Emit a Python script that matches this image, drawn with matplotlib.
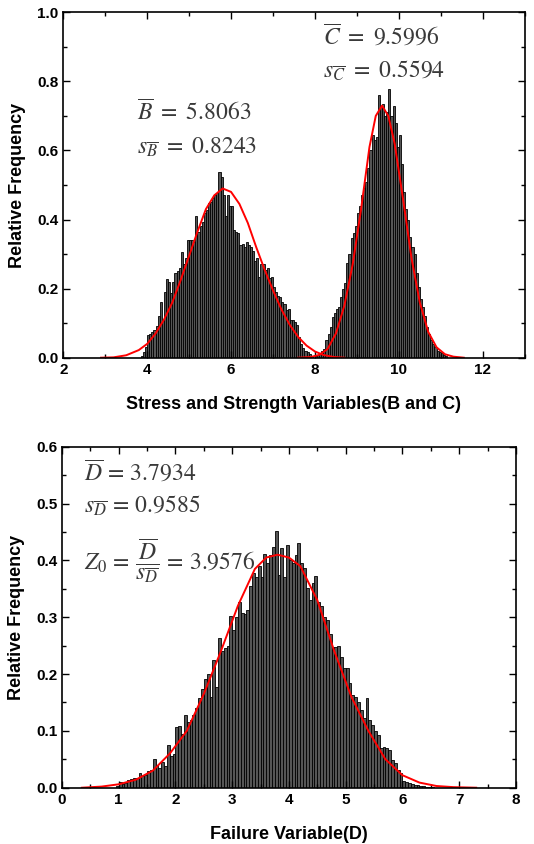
# histograms of stress/strength (B, C) and failure variable (D) with fitted curves
import numpy as np
import matplotlib.pyplot as plt
from matplotlib.ticker import MultipleLocator

plt.rcParams["font.family"] = "Liberation Sans"
plt.rcParams["mathtext.fontset"] = "stix"

BIN = 0.05

# stress B, bins starting at 3.85
b_start = 3.85
b_freq = [0.005, 0.017, 0.03, 0.066, 0.07, 0.075, 0.08, 0.093, 0.12, 0.16,
          0.109, 0.19, 0.228, 0.22, 0.186, 0.22, 0.244, 0.25, 0.26, 0.305,
          0.27, 0.29, 0.34, 0.34, 0.34, 0.336, 0.41, 0.365, 0.38, 0.394,
          0.42, 0.428, 0.447, 0.45, 0.461, 0.47, 0.476, 0.537, 0.524, 0.47,
          0.41, 0.47, 0.44, 0.44, 0.37, 0.365, 0.36, 0.326, 0.33, 0.32,
          0.336, 0.326, 0.32, 0.31, 0.28, 0.29, 0.235, 0.27, 0.27, 0.254,
          0.26, 0.23, 0.235, 0.206, 0.19, 0.18, 0.175, 0.16, 0.155, 0.138,
          0.14, 0.109, 0.11, 0.104, 0.095, 0.06, 0.04, 0.027, 0.02, 0.017,
          0.01, 0.005]

# strength C, bins starting at 8.00
c_start = 8.00
c_freq = [0.005, 0.008, 0.013, 0.02, 0.024, 0.05, 0.07, 0.09, 0.117, 0.128,
          0.14, 0.147, 0.176, 0.20, 0.215, 0.273, 0.30, 0.346, 0.36, 0.38,
          0.42, 0.44, 0.47, 0.49, 0.51, 0.55, 0.60, 0.645, 0.63, 0.64,
          0.76, 0.73, 0.735, 0.70, 0.71, 0.777, 0.70, 0.73, 0.68, 0.61,
          0.645, 0.56, 0.48, 0.43, 0.40, 0.35, 0.32, 0.30, 0.244, 0.205,
          0.17, 0.147, 0.12, 0.09, 0.07, 0.05, 0.04, 0.03, 0.02, 0.016,
          0.013, 0.008, 0.004]

# failure variable D, bins starting at 0.95
d_start = 0.95
d_freq = [0.003, 0.01, 0.006, 0.008, 0.013, 0.016, 0.017, 0.017, 0.025, 0.02,
          0.022, 0.03, 0.032, 0.05, 0.04, 0.035, 0.045, 0.038, 0.075, 0.055,
          0.06, 0.107, 0.108, 0.095, 0.128, 0.116, 0.12, 0.128, 0.14, 0.157,
          0.173, 0.192, 0.20, 0.16, 0.225, 0.178, 0.263, 0.24, 0.245, 0.25,
          0.303, 0.277, 0.30, 0.327, 0.307, 0.305, 0.313, 0.355, 0.377, 0.371,
          0.39, 0.371, 0.412, 0.395, 0.41, 0.424, 0.452, 0.374, 0.421, 0.371,
          0.427, 0.40, 0.395, 0.41, 0.43, 0.395, 0.386, 0.351, 0.33, 0.36,
          0.372, 0.327, 0.32, 0.30, 0.295, 0.27, 0.248, 0.248, 0.25, 0.23,
          0.21, 0.21, 0.184, 0.163, 0.16, 0.15, 0.137, 0.122, 0.157, 0.12,
          0.11, 0.10, 0.093, 0.07, 0.072, 0.07, 0.066, 0.049, 0.043, 0.031,
          0.025, 0.011, 0.01, 0.009, 0.007, 0.005, 0.004, 0.003, 0.003, 0.002,
          0.002, 0.001]

# fitted curves
b_curve_x = [2.9, 3.2, 3.5, 3.8, 4.0, 4.2, 4.4, 4.6, 4.8, 5.0, 5.2, 5.4, 5.6, 5.8,
             6.0, 6.2, 6.4, 6.6, 6.8, 7.0, 7.2, 7.4, 7.6, 7.8, 8.0, 8.2, 8.45, 8.7]
b_curve_y = [0.0, 0.001, 0.007, 0.022, 0.04, 0.07, 0.11, 0.16, 0.225, 0.295, 0.365,
             0.43, 0.47, 0.49, 0.48, 0.445, 0.39, 0.32, 0.255, 0.195, 0.14, 0.095,
             0.06, 0.035, 0.018, 0.008, 0.002, 0.0]
c_curve_x = [7.6, 7.9, 8.1, 8.3, 8.5, 8.7, 8.9, 9.1, 9.3, 9.45, 9.6, 9.75, 9.9,
             10.1, 10.3, 10.5, 10.7, 10.9, 11.1, 11.3, 11.55]
c_curve_y = [0.0, 0.002, 0.008, 0.025, 0.07, 0.15, 0.27, 0.43, 0.61, 0.70, 0.73,
             0.70, 0.62, 0.46, 0.29, 0.16, 0.075, 0.03, 0.01, 0.003, 0.0]
d_curve_x = [0.35, 0.7, 1.0, 1.3, 1.6, 1.9, 2.2, 2.5, 2.8, 3.1, 3.4, 3.6, 3.8, 4.0,
             4.2, 4.5, 4.8, 5.1, 5.4, 5.7, 6.0, 6.3, 6.6, 6.9, 7.3]
d_curve_y = [0.0, 0.002, 0.006, 0.014, 0.03, 0.06, 0.1, 0.165, 0.24, 0.32, 0.385,
             0.405, 0.41, 0.405, 0.39, 0.33, 0.24, 0.16, 0.1, 0.05, 0.022, 0.009,
             0.003, 0.001, 0.0]

BAR = dict(width=BIN, align="edge", facecolor="#555555", edgecolor="black", linewidth=0.6)
TXT = dict(fontsize=17, va="center", color="#3a3a3a", fontweight="normal")


def style_axes(ax):
    ax.tick_params(which="both", direction="in", top=True, right=True, labelsize=11)
    ax.tick_params(which="major", length=5, width=1)
    ax.tick_params(which="minor", length=3, width=1)
    for s in ax.spines.values():
        s.set_linewidth(1.2)
    for lab in ax.get_xticklabels() + ax.get_yticklabels():
        lab.set_fontweight("bold")


fig = plt.figure(figsize=(5.34, 8.44), dpi=100)

# top panel
ax1 = fig.add_axes([0.1185, 0.5762, 0.864, 0.4092])
ax1.bar(b_start + BIN * np.arange(len(b_freq)), b_freq, **BAR)
ax1.bar(c_start + BIN * np.arange(len(c_freq)), c_freq, **BAR)
ax1.plot(b_curve_x, b_curve_y, color="red", lw=1.4)
ax1.plot(c_curve_x, c_curve_y, color="red", lw=1.4)
ax1.set_xlim(2, 13)
ax1.set_ylim(0, 1.0)
ax1.xaxis.set_major_locator(MultipleLocator(2))
ax1.xaxis.set_minor_locator(MultipleLocator(1))
ax1.yaxis.set_major_locator(MultipleLocator(0.2))
ax1.yaxis.set_minor_locator(MultipleLocator(0.1))
ax1.yaxis.set_major_formatter(lambda v, p: f"{v:.1f}")
ax1.set_xlabel("Stress and Strength Variables(B and C)", fontsize=13, fontweight="bold", labelpad=14)
ax1.set_ylabel("Relative Frequency", fontsize=13, fontweight="bold", labelpad=8)
ax1.text(3.75, 0.71, r"$\overline{B}\ =\ 5.8063$", **TXT)
ax1.text(3.75, 0.61, r"$s_{\overline{B}}\ =\ 0.8243$", **TXT)
ax1.text(8.2, 0.93, r"$\overline{C}\ =\ 9.5996$", **TXT)
ax1.text(8.2, 0.83, r"$s_{\overline{C}}\ =\ 0.5594$", **TXT)
style_axes(ax1)

# bottom panel
ax2 = fig.add_axes([0.1161, 0.0667, 0.850, 0.404])
ax2.bar(d_start + BIN * np.arange(len(d_freq)), d_freq, **BAR)
ax2.plot(d_curve_x, d_curve_y, color="red", lw=1.4)
ax2.set_xlim(0, 8)
ax2.set_ylim(0, 0.6)
ax2.xaxis.set_major_locator(MultipleLocator(1))
ax2.xaxis.set_minor_locator(MultipleLocator(0.5))
ax2.yaxis.set_major_locator(MultipleLocator(0.1))
ax2.yaxis.set_minor_locator(MultipleLocator(0.05))
ax2.yaxis.set_major_formatter(lambda v, p: f"{v:.1f}")
ax2.set_xlabel("Failure Variable(D)", fontsize=13, fontweight="bold", labelpad=14)
ax2.set_ylabel("Relative Frequency", fontsize=13, fontweight="bold", labelpad=8)
ax2.text(0.38, 0.555, r"$\overline{D}\,=\,3.7934$", **TXT)
ax2.text(0.38, 0.495, r"$s_{\overline{D}}\,=\,0.9585$", **TXT)
ax2.text(0.38, 0.40, r"$Z_0\,=\,\dfrac{\overline{D}}{s_{\overline{D}}}\,=\,3.9576$", **TXT)
style_axes(ax2)

fig.savefig("out.png", dpi=100)
